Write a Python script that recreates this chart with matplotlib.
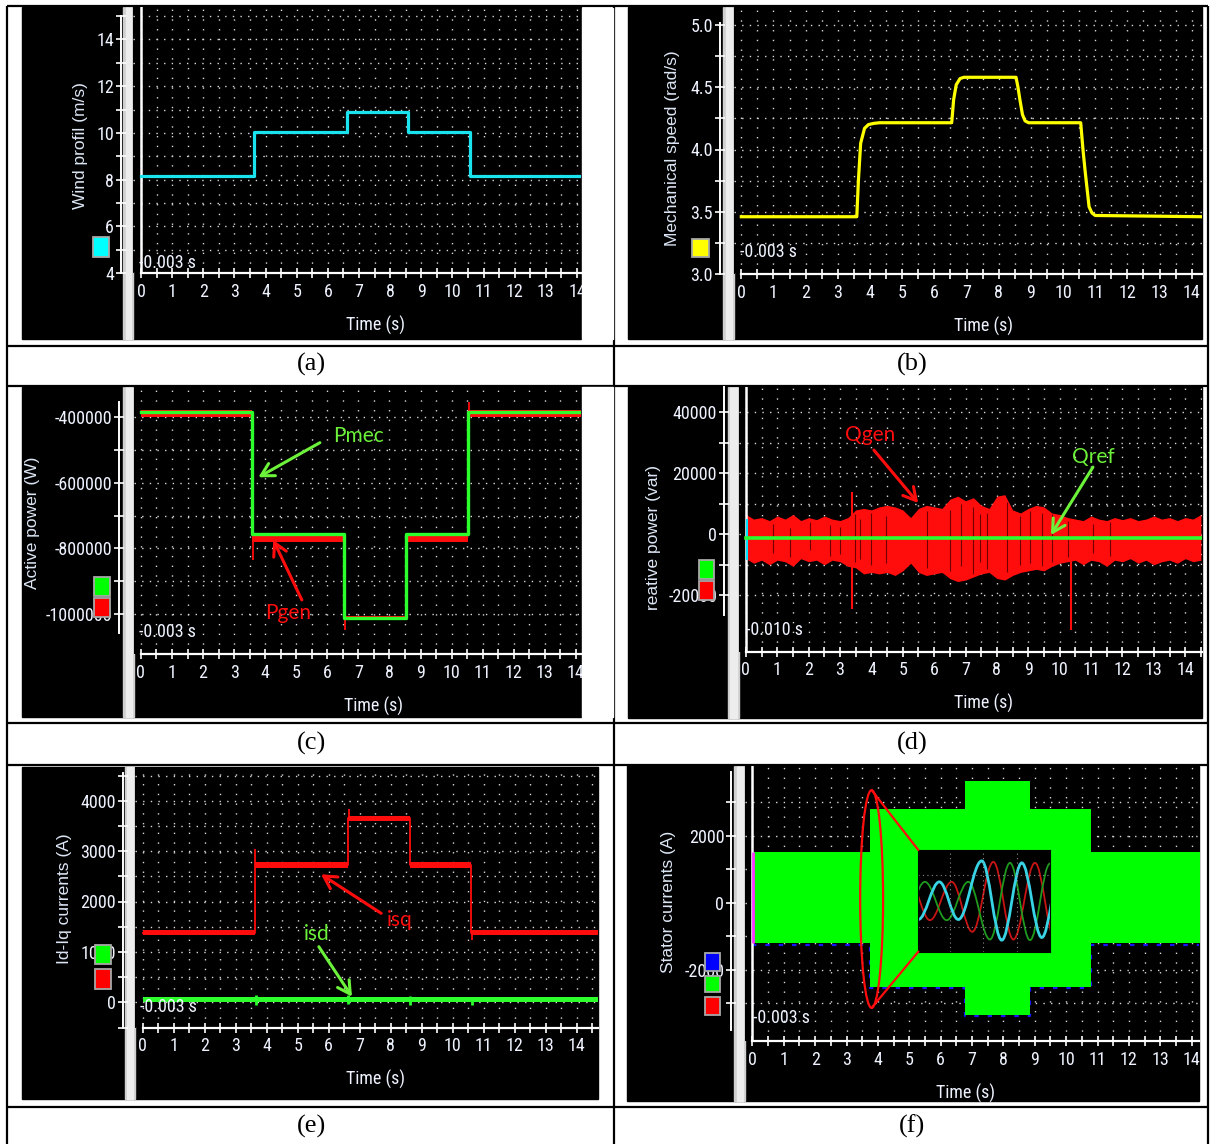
import numpy as np
import matplotlib.pyplot as plt
from matplotlib import font_manager
from matplotlib.patches import Rectangle, Ellipse, ConnectionPatch, PathPatch
from matplotlib.path import Path
from matplotlib.ticker import FixedLocator, FormatStrFormatter

W, H = 1210, 1144


def pick_narrow():
    # scope screens use a narrow sans; take whichever condensed face is installed
    faces = font_manager.fontManager.ttflist
    names = {f.name for f in faces}
    for n in ('Liberation Sans Narrow', 'Arial Narrow', 'Roboto Condensed', 'Open Sans Condensed'):
        if n in names:
            return n, 'normal'
    for f in faces:
        if str(f.stretch) in ('condensed', 'semi-condensed') and 'Mono' not in f.name \
                and 'Serif' not in f.name:
            return f.name, f.stretch
    return 'Liberation Sans', 'normal'


NARROW_NAME, NARROW_STRETCH = pick_narrow()
NARROW = [NARROW_NAME, 'DejaVu Sans']
SANS = ['Liberation Sans', 'DejaVu Sans']
SERIF = ['Liberation Serif', 'DejaVu Serif']
NOTE = ['Lato', 'DejaVu Sans']
TXT = '#eef3ff'
NSIZE = 13 if NARROW_NAME != 'Liberation Sans' else 11.5

plt.rcParams['font.family'] = NARROW
plt.rcParams['font.stretch'] = NARROW_STRETCH

# (a) wind profile (m/s), levels between switching instants
wind_t = [0, 3.63, 6.6, 8.58, 10.56, 14.1]
wind_v = [8.15, 10.04, 10.9, 10.04, 8.15]

# (b) mechanical speed (rad/s)
speed_t = [0, 3.59, 3.64, 3.71, 3.83, 3.95, 4.12, 4.3, 6.54, 6.6, 6.68, 6.8, 6.92,
           8.54, 8.6, 8.66, 8.74, 8.82, 8.93, 10.55, 10.62, 10.69, 10.81, 10.9, 11.0, 14.32]
speed_w = [3.46, 3.46, 3.75, 4.05, 4.17, 4.2, 4.21, 4.215, 4.215, 4.4, 4.52, 4.57, 4.58,
           4.58, 4.5, 4.4, 4.28, 4.23, 4.215, 4.215, 4.0, 3.82, 3.54, 3.49, 3.47, 3.46]

# (c) active power (W)
power_t = [0, 3.585, 6.55, 8.52, 10.54, 14.16]
pmec = [-384800, -756200, -1012100, -756200, -384800]
pgen_hi = [-380000, -754000, -1005000, -754000, -380000]
pgen_lo = [-402000, -779500, -1017000, -779500, -402000]
pgen_spike_t = [3.6, 6.57, 8.54, 10.55]
pgen_spike_a = [-760000, -1010000, -760000, -380000]
pgen_spike_b = [-835000, -1048000, -886000, -354500]

# (d) reactive power (kvar), envelope of Qgen every 0.25 s
qgen_t = np.arange(59) * 0.25
qgen_hi = [6.5, 5.0, 5.5, 4.5, 6.0, 5.0, 6.5, 4.5, 5.5, 4.8, 6.0, 5.0, 4.5, 5.5,
           8.0, 8.5, 8.0, 9.0, 9.5, 9.0, 8.0, 5.5, 8.5, 9.5, 9.0, 8.5,
           11.5, 12.5, 11.0, 12.0, 9.5, 8.5, 12.5, 13.0, 8.0, 7.0,
           8.5, 9.5, 9.0, 7.0, 6.5, 5.5,
           5.0, 4.5, 6.0, 5.0, 4.5, 5.5, 4.8, 5.5, 4.5, 5.0, 6.0, 5.0, 5.5, 4.5, 5.5, 5.0, 6.5]
qgen_lo = [-8.0, -9.5, -8.5, -10.0, -8.5, -9.0, -10.5, -8.0, -9.0, -8.5, -10.0, -8.5, -9.0, -10.5,
           -11.0, -13.0, -12.5, -13.0, -12.5, -13.5, -12.0, -9.5, -12.5, -13.5, -13.0, -12.5,
           -14.5, -15.5, -15.0, -14.0, -13.0, -12.5, -14.5, -15.0, -13.5, -12.5,
           -12.0, -11.5, -12.0, -10.5, -9.5, -9.0,
           -8.5, -10.0, -8.5, -9.0, -10.5, -8.5, -9.0, -8.0, -9.5, -8.5, -10.0, -9.0, -8.5, -9.5,
           -8.0, -9.0, -8.5]
qgen_spike_t = [3.38, 10.36]
qgen_spike_lo = [-24.5, -31.3]
qgen_spike_hi = [14.0, -8.0]
# short drop-outs of Qgen inside the band (kvar)
qgen_gap_t = [0.87, 1.4, 2.04, 2.68, 3.0, 3.48, 3.63, 4.0, 4.48, 5.76, 6.5, 6.87, 7.25,
              7.46, 7.67, 8.31, 8.74, 9.06, 9.43, 9.75, 10.28, 11.07, 11.6]
qgen_gap_lo = [-6.0, -7.5, -5.0, -7.0, -6.5, -9.0, -8.0, -10.0, -9.5, -11.0, -12.0, -10.5, -13.0,
               -9.0, -11.5, -12.5, -10.0, -9.5, -10.5, -9.0, -7.5, -6.0, -7.0]
qgen_gap_hi = [3.5, 2.0, 4.0, 3.0, 2.5, 6.5, 5.0, 7.0, 6.0, 7.5, 8.0, 10.0, 9.0,
               6.5, 7.0, 10.5, 6.0, 7.5, 7.0, 6.5, 4.5, 3.5, 4.0]
qref_t = [0, 14.53]
qref_v = [-1.2, -1.2]

# (e) d-q stator currents (A)
idq_t = [0, 3.62, 6.63, 8.61, 10.6, 14.68]
isq = [1380, 2720, 3650, 2720, 1380]
isq_noise = [45, 60, 55, 60, 45]
isq_spike_t = [3.63, 6.64, 10.61]
isq_spike_a = [2720, 3650, 1380]
isq_spike_b = [3040, 3830, 1230]
isd = [55, 60, 60, 60, 55]
isd_noise = [50, 55, 55, 55, 50]
isd_bump_t = [3.65, 6.62, 8.62, 10.62]
isd_bump_lo = [-50, -40, -60, -60]
isd_bump_hi = [150, 140, 130, 100]

# (f) stator current envelope (A)
stator_t = [0, 3.75, 6.76, 8.84, 10.8, 14.25]
stator_hi = [1500, 2800, 3630, 2800, 1500]
stator_lo = [-1210, -2510, -3340, -2510, -1210]

# zoomed three-phase currents: extremum instants (ms) and values (A)
ia_t = [0, 10.5, 20, 31.7, 41.7, 51.7, 61.7, 71.7]
ia_v = [-1266, 1288, -1266, 2712, -2667, 2576, -2486, 2550]
ib_t = [-4.2, 5.8, 16.7, 27, 37.5, 47.5, 58.3, 68.3]
ib_v = [1288, -1311, 1288, -2100, 2644, -2622, 2576, -2600]
ic_t = [-7.5, 3.3, 14.2, 25, 35.8, 45.8, 55.8, 65.8, 75.8]
ic_v = [-1311, 1288, -1311, 1288, -2622, 2576, -2667, 2531, -2600]

CYAN = '#19e3ee'
YELLOW = '#ffff00'
GREEN = '#2cff2c'
RED = '#ff0d0d'
NOTE_GREEN = '#6cf23a'


def frac(x0, y0, x1, y1):
    return [x0 / W, 1 - y1 / H, (x1 - x0) / W, (y1 - y0) / H]


def to_lims(p0, p1, ref):
    (pa, va), (pb, vb) = ref
    s = (vb - va) / (pb - pa)
    return va + (p0 - pa) * s, va + (p1 - pa) * s


def ext(v):
    return list(v) + [v[-1]]


fig = plt.figure(figsize=(W / 100, H / 100), dpi=100)
fig.patch.set_facecolor('white')

bg = fig.add_axes([0, 0, 1, 1], zorder=-2)
ov = fig.add_axes([0, 0, 1, 1], zorder=5)
for a in (bg, ov):
    a.set_xlim(0, W)
    a.set_ylim(H, 0)
    a.axis('off')

# table frame and captions
bg.hlines([6, 345.5, 385.5, 722.5, 764.5, 1106.5], 7, 1208, colors='black', lw=1.6)
bg.vlines([7, 614, 1207.5], 6, H, colors='black', lw=1.6)
for cap, cx, cy in [('(a)', 311, 364), ('(b)', 912, 364), ('(c)', 311, 743),
                    ('(d)', 912, 743), ('(e)', 311, 1126), ('(f)', 912, 1126)]:
    bg.text(cx, cy, cap, family=SERIF, fontsize=19, ha='center', va='center')


def scope(outer, strip, axis_y, spine_x, xref, yref, yticks, yminor, spine_lim,
          ylabel, ylabel_xy, xlabel_x, stamp_xy, stamp='-0.003 s', fmt='%d', zero_line=False):
    x0, y0, x1, y1 = outer
    bg.add_patch(Rectangle((x0, y0), x1 - x0, y1 - y0, color='black'))
    bg.add_patch(Rectangle((strip[0], y0), strip[1] - strip[0], y1 - y0, color='#cfcfcf'))
    bg.add_patch(Rectangle((strip[0] + 2.5, y0), strip[1] - strip[0] - 5, y1 - y0, color='#ededed'))

    ax = fig.add_axes(frac(strip[1], y0, x1, axis_y))
    ax.set_facecolor('black')
    ax.set_xlim(*to_lims(strip[1], x1, xref))
    ax.set_ylim(*to_lims(axis_y, y0, yref))
    ax.set_axisbelow(True)

    for s in ('top', 'right'):
        ax.spines[s].set_visible(False)
    ax.spines['bottom'].set_color('white')
    ax.spines['bottom'].set_linewidth(1.6)
    ax.spines['bottom'].set_bounds(0, ax.get_xlim()[1])
    ax.spines['left'].set_color('white')
    ax.spines['left'].set_linewidth(1.4)
    ax.spines['left'].set_position(('outward', (strip[1] - spine_x) * 0.72))
    ax.spines['left'].set_bounds(*spine_lim)

    ax.xaxis.set_major_locator(FixedLocator(range(15)))
    ax.xaxis.set_minor_locator(FixedLocator(np.arange(0.5, 15, 1)))
    ax.yaxis.set_major_locator(FixedLocator(yticks))
    ax.yaxis.set_minor_locator(FixedLocator(yminor))
    ax.yaxis.set_major_formatter(FormatStrFormatter(fmt))
    ax.tick_params(which='both', direction='inout', length=7, width=1.2, color='white',
                   labelcolor=TXT, labelsize=NSIZE)
    ax.tick_params(axis='x', pad=3.5)
    ax.tick_params(axis='y', pad=1.5)

    ax.grid(True, which='both', axis='x', color='#d8d8d8', lw=1.0, ls=(0, (1, 6)))
    ax.grid(True, which='both', axis='y', color='#d8d8d8', lw=1.0, ls=(0, (1, 4.5)))
    if zero_line:
        ax.axvline(0, color='white', lw=1.8, zorder=1.2)

    ov.text(ylabel_xy[0], ylabel_xy[1], ylabel, rotation=90, family=SANS, fontsize=12.5,
            color='#dde6f5', ha='center', va='center')
    ov.text(xlabel_x, axis_y + 52, 'Time (s)', fontsize=NSIZE, color=TXT, ha='center', va='center')
    ov.text(stamp_xy[0], stamp_xy[1], stamp, fontsize=NSIZE, color=TXT, ha='left', va='center')
    return ax


def squares(x0, x1, spans, colors):
    for (ya, yb), c in zip(spans, colors):
        ov.add_patch(Rectangle((x0, ya), x1 - x0, yb - ya, fc=c, ec='#a8a8a8', lw=1.3))


def note(ax, label, txy, tail, head, color):
    ax.text(txy[0], txy[1], label, color=color, fontsize=15, family=NOTE, ha='center', va='center')
    ax.annotate('', xy=head, xytext=tail,
                arrowprops=dict(arrowstyle='->,head_length=0.9,head_width=0.5', color=color,
                                lw=2.2, shrinkA=0, shrinkB=0))


def wave_path(ts, vs, k=0.3634):
    verts = [(ts[0], vs[0])]
    codes = [Path.MOVETO]
    for i in range(1, len(ts)):
        d = ts[i] - ts[i - 1]
        verts += [(ts[i - 1] + k * d, vs[i - 1]), (ts[i] - k * d, vs[i]), (ts[i], vs[i])]
        codes += [Path.CURVE4] * 3
    return Path(verts, codes)


# (a) wind profile
ax_a = scope((22, 7, 581, 339), (123, 133), 273, 121, ((141, 0), (577, 14)), ((273, 4), (39.5, 14)),
             [4, 6, 8, 10, 12, 14], [5, 7, 9, 11, 13, 15], (4, 15),
             'Wind profil (m/s)', (80, 146), 376, (139, 263), zero_line=True)
ax_a.step(wind_t, ext(wind_v), where='post', color=CYAN, lw=2.3)
squares(93, 109, [(237, 256.5)], ['#00ffff'])

# (b) mechanical speed
ax_b = scope((628, 7, 1202, 339), (723, 734), 274, 720, ((741.3, 0), (1191.7, 14)), ((274, 3), (25, 5)),
             [3, 3.5, 4, 4.5, 5], [3.25, 3.75, 4.25, 4.75], (3, 5.02),
             'Mechanical speed (rad/s)', (673, 148), 983, (740, 252), fmt='%.1f')
ax_b.plot(speed_t, speed_w, color=YELLOW, lw=2.3)
squares(691.5, 708.5, [(239, 257)], ['#ffff00'])

# (c) active power
ax_c = scope((22, 387, 581, 717), (123, 134), 654, 119, ((140.9, 0), (575.9, 14)),
             ((416.7, -4e5), (614.3, -1e6)),
             [-1000000, -800000, -600000, -400000], [-900000, -700000, -500000], (-1056800, -354500),
             'Active power (W)', (33, 523), 373.5, (139, 632))
ax_c.fill_between(power_t, ext(pgen_lo), ext(pgen_hi), step='post', color=RED, lw=0)
ax_c.vlines(pgen_spike_t, pgen_spike_a, pgen_spike_b, color=RED, lw=1.3)
ax_c.step(power_t, ext(pmec), where='post', color=GREEN, lw=2.4, zorder=3)
note(ax_c, 'Pmec', (6.99, -458600), (5.76, -478900), (3.78, -584000), NOTE_GREEN)
note(ax_c, 'Pgen', (4.74, -996900), (5.18, -956500), (4.26, -774400), RED)
squares(94, 110, [(577, 596), (598, 617)], ['#00ff00', '#ff0000'])

# (d) reactive power
ax_d = scope((628, 387, 1202, 718), (727.5, 739), 651.7, 724, ((745.9, 0), (1185.2, 14)),
             ((534.3, 0), (412.3, 40000)),
             [-20000, 0, 20000, 40000], [-10000, 10000, 30000], (-26300, 48300),
             'reative power (var)', (653.5, 538), 983, (746, 630), stamp='-0.010 s', zero_line=True)
ax_d.fill_between(qgen_t, np.array(qgen_lo) * 1e3, np.array(qgen_hi) * 1e3, color=RED, lw=0)
ax_d.vlines(qgen_spike_t, np.array(qgen_spike_lo) * 1e3, np.array(qgen_spike_hi) * 1e3, color=RED, lw=1.5)
ax_d.vlines(qgen_gap_t, np.array(qgen_gap_lo) * 1e3, np.array(qgen_gap_hi) * 1e3,
            color='#700000', lw=0.8, zorder=2)
ax_d.vlines(0.03, -8400, 4900, color='#00e5ff', lw=1.5, zorder=2)
ax_d.plot(qref_t, np.array(qref_v) * 1e3, color=GREEN, lw=2.6, zorder=3)
note(ax_d, 'Qgen', (3.95, 32500), (4.08, 27600), (5.49, 10250), RED)
note(ax_d, 'Qref', (11.06, 25300), (11.06, 22030), (9.72, -230), NOTE_GREEN)
squares(699, 714, [(560, 579), (581, 600)], ['#00ff00', '#ff0000'])

# (e) id-iq currents
ax_e = scope((22, 767, 597.7, 1099), (124.5, 135.4), 1027.7, 122.6, ((142.8, 0), (576.7, 14)),
             ((1002.3, 0), (800.7, 4000)),
             [0, 1000, 2000, 3000, 4000], [-500, 500, 1500, 2500, 3500, 4500], (-504, 4550),
             'Id-Iq currents (A)', (64, 899), 375, (140, 1007))
isq_a, isq_n = np.array(ext(isq)), np.array(ext(isq_noise))
ax_e.fill_between(idq_t, isq_a - isq_n, isq_a + isq_n, step='post', color=RED, lw=0)
ax_e.step(idq_t, isq_a, where='post', color=RED, lw=1.3)
ax_e.vlines(isq_spike_t, isq_spike_a, isq_spike_b, color=RED, lw=1.3)
isd_a, isd_n = np.array(ext(isd)), np.array(ext(isd_noise))
ax_e.fill_between(idq_t, isd_a - isd_n, isd_a + isd_n, step='post', color=GREEN, lw=0)
ax_e.vlines(isd_bump_t, isd_bump_lo, isd_bump_hi, color=GREEN, lw=2)
note(ax_e, 'isq', (8.3, 1633), (7.69, 1766), (5.75, 2540), RED)
note(ax_e, 'isd', (5.62, 1355), (5.68, 1103), (6.75, 111), NOTE_GREEN)
squares(95.3, 111, [(945, 964), (969, 989)], ['#00ff00', '#ff0000'])

# (f) stator currents with zoomed window
ax_f = scope((627, 766, 1199.4, 1100.7), (734.4, 745), 1041, 731.3, ((752.4, 0), (1191.7, 14)),
             ((902.7, 0), (835.7, 2000)),
             [-2000, 0, 2000], [-3000, -1000, 1000, 3000], (-3807, 3905),
             'Stator currents (A)', (668, 901.5), 966, (753, 1018), zero_line=True)
lo_f, hi_f = np.array(ext(stator_lo)), np.array(ext(stator_hi))
ax_f.step(stator_t, lo_f - 45, where='post', color='#1515ff', lw=1.6, ls=(0, (2, 4)), zorder=0.9)
ax_f.fill_between(stator_t, lo_f, hi_f, step='post', color='#00ff00', lw=0)
ax_f.vlines(0.03, stator_lo[0], stator_hi[0], color='#ff33ff', lw=2, zorder=2)
ax_f.add_patch(Ellipse((3.80, 110), 0.73, 6500, fill=False, ec=RED, lw=1.6, zorder=3))

ins = fig.add_axes(frac(918.3, 850, 1050, 951.7), zorder=3)
ins.set_facecolor('black')
ins.set_xlim(0, 65.8)
ins.set_ylim(-3450, 3450)
ins.set_xticks([15.8, 32.5, 49.2])
ins.set_yticks([-1760, 1740])
ins.tick_params(length=0, labelbottom=False, labelleft=False)
ins.grid(True, color='#8a8a8a', lw=0.8, ls=(0, (1, 3)))
for s in ins.spines.values():
    s.set_color('black')
for ts, vs, c, lw in [(ib_t, ib_v, '#c81414', 1.3), (ic_t, ic_v, '#1e9a1e', 1.3), (ia_t, ia_v, '#38d4e6', 2.0)]:
    ins.add_patch(PathPatch(wave_path(ts, vs), fill=False, ec=c, lw=lw))

for xy_a, xy_b in [((3.80, 3360), (0, 1)), ((3.80, -3140), (0, 0))]:
    fig.add_artist(ConnectionPatch(xyA=xy_a, coordsA=ax_f.transData, xyB=xy_b, coordsB=ins.transAxes,
                                   color=RED, lw=1.6, zorder=4))
squares(705, 720, [(952.7, 970.7), (976, 992), (996.7, 1015)], ['#0000ff', '#00ff00', '#ff0000'])

# trim the last tick label where the screen capture ends
ov.add_patch(Rectangle((581.5, 8), 31, 331, color='white'))
ov.add_patch(Rectangle((581.5, 387), 31, 330, color='white'))

fig.savefig('out.png', dpi=100)
